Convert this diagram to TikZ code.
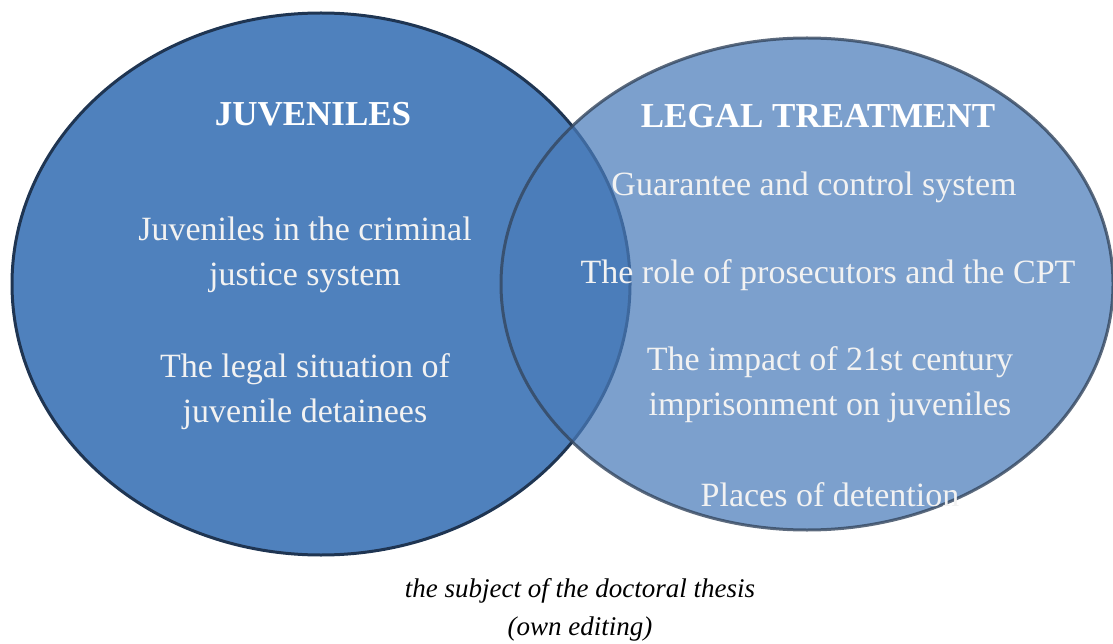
\documentclass[tikz,border=0pt]{standalone}
\usepackage{fontspec}
\setmainfont{Liberation Serif}
\usepackage{tikz}

\definecolor{leftblue}{HTML}{4F81BD}
\definecolor{rightblue}{HTML}{4A7CBA}
\definecolor{leftline}{HTML}{1F3552}
\definecolor{rightline}{HTML}{34465E}

\begin{document}
\begin{tikzpicture}[x=1pt,y=-1pt]
    \tikzset{
    setA/.style={fill=leftblue, draw=leftline, line width=3},
    setB/.style={fill=rightblue, fill opacity=0.72, draw=rightline, draw opacity=0.8, line width=3},
    head/.style={text=white, font=\fontsize{35}{40}\selectfont\bfseries, align=center},
    item/.style={text=white!95!black, font=\fontsize{34}{45}\selectfont, align=center},
    note/.style={text=black, font=\fontsize{27}{38}\selectfont\itshape, align=center},
    }
    \useasboundingbox (0,0) rectangle (1113,644);

    \draw[setA] (321,284) ellipse (309 and 271);
    \draw[setB] (807,284) ellipse (306 and 246);

    \node[head] (h1) at (313,114) {JUVENILES};
    \node[head] (h2) at (818,116) {LEGAL TREATMENT};

    \node[item] (a1) at (305,255) {Juveniles in the criminal\\justice system};
    \node[item] (a2) at (305,392) {The legal situation of\\juvenile detainees};

    \node[item] (b1) at (814,187) {Guarantee and control system};
    \node[item] (b2) at (828,275) {The role of prosecutors and the CPT};
    \node[item] (b3) at (830,385) {The impact of 21st century\\imprisonment on juveniles};
    \node[item] (b4) at (830,495) {Places of detention};

    \node[note] (cap) at (580,610) {the subject of the doctoral thesis\\(own editing)};

\end{tikzpicture}
\end{document}
